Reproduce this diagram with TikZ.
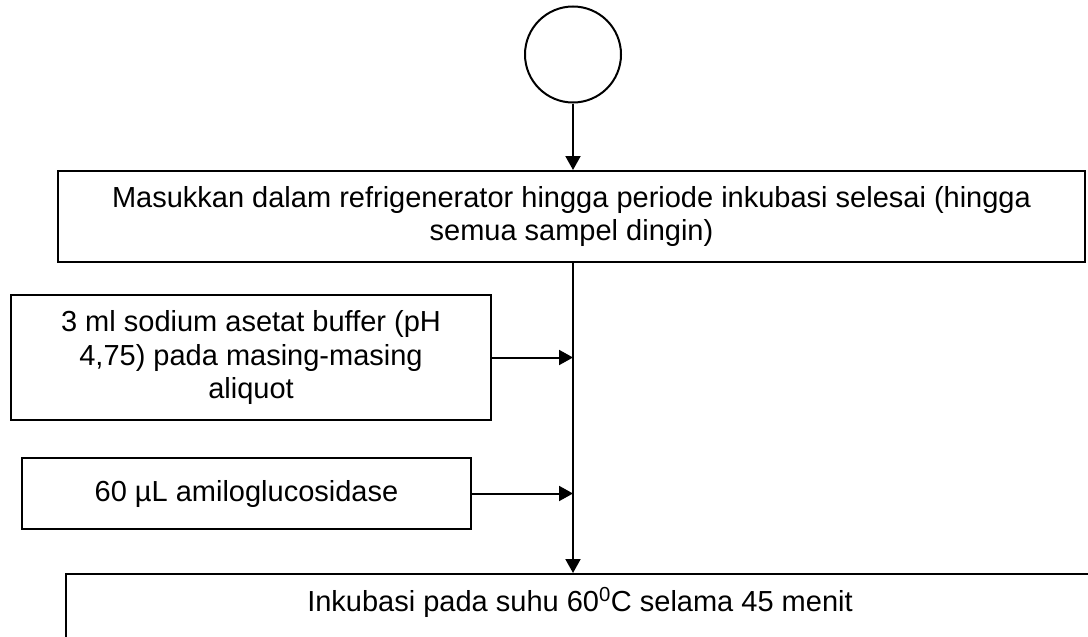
\documentclass[tikz,border=0pt]{standalone}
\usepackage{fontspec}
\setmainfont{Liberation Sans}
\usetikzlibrary{arrows.meta}

\begin{document}
\begin{tikzpicture}[x=1pt,y=-1pt,
  every node/.style={font=\fontsize{29}{33.5}\selectfont},
  stepbox/.style={draw, rectangle, line width=2pt, inner sep=0pt, align=center},
  startcircle/.style={draw, circle, line width=2pt, minimum size=96pt, inner sep=0pt},
  flow/.style={line width=2pt, -{Triangle[length=14pt,width=15pt]}}]

\useasboundingbox (0,0) rectangle (1088,637);
\clip (0,0) rectangle (1088,637);

% start connector
\node[startcircle] (c) at (573,54.5) {};

% process steps
\node[stepbox, minimum width=1027pt, minimum height=91pt] (top) at (571.5,216.5)
  {Masukkan dalam refrigenerator hingga periode inkubasi selesai (hingga\\semua sampel dingin)};

\node[stepbox, minimum width=480pt, minimum height=125pt] (buf) at (251,357.5)
  {3 ml sodium asetat buffer (pH\\4,75) pada masing-masing\\aliquot};

\node[stepbox, minimum width=449pt, minimum height=71pt] (amg) at (246.5,493.5)
  {60 µL amiloglucosidase};

\node[draw, rectangle, line width=2pt, inner ysep=0pt, inner xsep=0pt,
      text height=37pt, text depth=60pt, minimum width=1028pt, anchor=base] (inc) at (580,611)
  {Inkubasi pada suhu 60\textsuperscript{0}C selama 45 menit};

% junctions on the main line
\coordinate (j1) at (buf.east -| c.south);
\coordinate (j2) at (amg.east -| c.south);

% connectors
\draw[flow] (c.south) -- (top.north -| c.south);
\draw[flow] (top.south -| c.south) -- (inc.north -| c.south);
\draw[flow] (buf.east) -- (j1);
\draw[flow] (amg.east) -- (j2);

\end{tikzpicture}
\end{document}
